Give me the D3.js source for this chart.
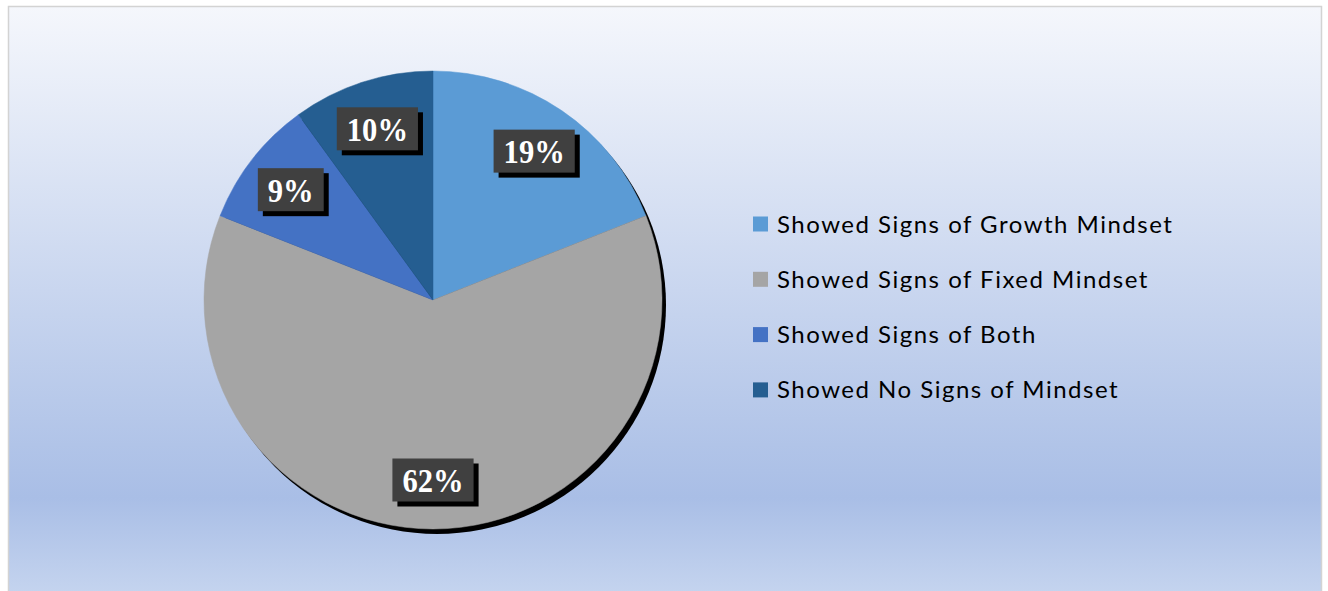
<!DOCTYPE html>
<html>
<head>
<meta charset="utf-8">
<script src="https://cdn.jsdelivr.net/npm/d3@7"></script>
<style>
  html, body { margin: 0; padding: 0; background: #fff; }
  svg { display: block; }
</style>
</head>
<body>
<div id="chart"></div>
<script>
var categories = [
  "Showed Signs of Growth Mindset",
  "Showed Signs of Fixed Mindset",
  "Showed Signs of Both",
  "Showed No Signs of Mindset"
];
var values = [19, 62, 9, 10];
var colors = ["#5b9bd5", "#a5a5a5", "#4472c4", "#255e91"];

var width = 1328, height = 591;
var cx = 433, cy = 300, radius = 229;

var svg = d3.select("#chart").append("svg")
  .attr("width", width)
  .attr("height", height);

// background gradient
var grad = svg.append("defs").append("linearGradient")
  .attr("id", "bg")
  .attr("x1", 0).attr("y1", 0).attr("x2", 0).attr("y2", 1);
grad.append("stop").attr("offset", "0%").attr("stop-color", "#f5f7fc");
grad.append("stop").attr("offset", "74%").attr("stop-color", "#b1c4e8");
grad.append("stop").attr("offset", "83%").attr("stop-color", "#a9bee6");
grad.append("stop").attr("offset", "100%").attr("stop-color", "#c6d5ef");

svg.append("rect")
  .attr("x", 8.5).attr("y", 6.5)
  .attr("width", 1313).attr("height", 592)
  .style("fill", "url(#bg)")
  .style("stroke", "#d3d3d3")
  .style("stroke-width", 1.5);

var pie = d3.pie().sort(null).value(function(d) { return d; });
var arcs = pie(values);
var arc = d3.arc().innerRadius(0).outerRadius(radius);
var labelArc = d3.arc().innerRadius(180).outerRadius(180);

var g = svg.append("g")
  .attr("transform", "translate(" + cx + "," + cy + ")");

// pie shadow
g.append("circle")
  .attr("cx", 4).attr("cy", 5)
  .attr("r", radius)
  .style("fill", "#000");

g.selectAll("path.slice")
  .data(arcs)
.enter().append("path")
  .attr("class", "slice")
  .attr("d", arc)
  .style("fill", function(d, i) { return colors[i]; })
  .style("stroke", function(d, i) { return colors[i]; })
  .style("stroke-width", 0.5);

// data labels
var label = g.selectAll("g.label")
  .data(arcs)
.enter().append("g")
  .attr("class", "label")
  .attr("transform", function(d) {
    var c = labelArc.centroid(d);
    return "translate(" + c[0] + "," + c[1] + ")";
  });

label.each(function(d) {
  var el = d3.select(this);
  var shadow = el.append("rect").style("fill", "#000");
  var box = el.append("rect").style("fill", "#404040");
  var t = el.append("text")
    .text(d.value + "%")
    .attr("transform", "translate(0,12) scale(0.9,1)")
    .style("text-anchor", "middle")
    .style("font-family", "'Liberation Serif', 'Times New Roman', serif")
    .style("font-weight", "bold")
    .style("font-size", "34px")
    .style("fill", "#fff");
  var w = t.node().getComputedTextLength() * 0.9 + 20;
  var h = 43;
  box.attr("x", -w / 2).attr("y", -h / 2).attr("width", w).attr("height", h);
  shadow.attr("x", -w / 2 + 5).attr("y", -h / 2 + 5).attr("width", w).attr("height", h);
});

// legend
var legend = svg.selectAll("g.legend")
  .data(categories)
.enter().append("g")
  .attr("class", "legend")
  .attr("transform", function(d, i) {
    return "translate(753," + (224 + i * 55.3) + ")";
  });

legend.append("rect")
  .attr("x", 0).attr("y", -7.5)
  .attr("width", 15).attr("height", 15)
  .style("fill", function(d, i) { return colors[i]; });

legend.append("text")
  .text(function(d) { return d; })
  .attr("x", 24)
  .attr("y", 8.5)
  .style("font-family", "Lato, sans-serif")
  .style("font-size", "24px")
  .style("letter-spacing", "1.5px")
  .style("fill", "#000");
</script>
</body>
</html>
